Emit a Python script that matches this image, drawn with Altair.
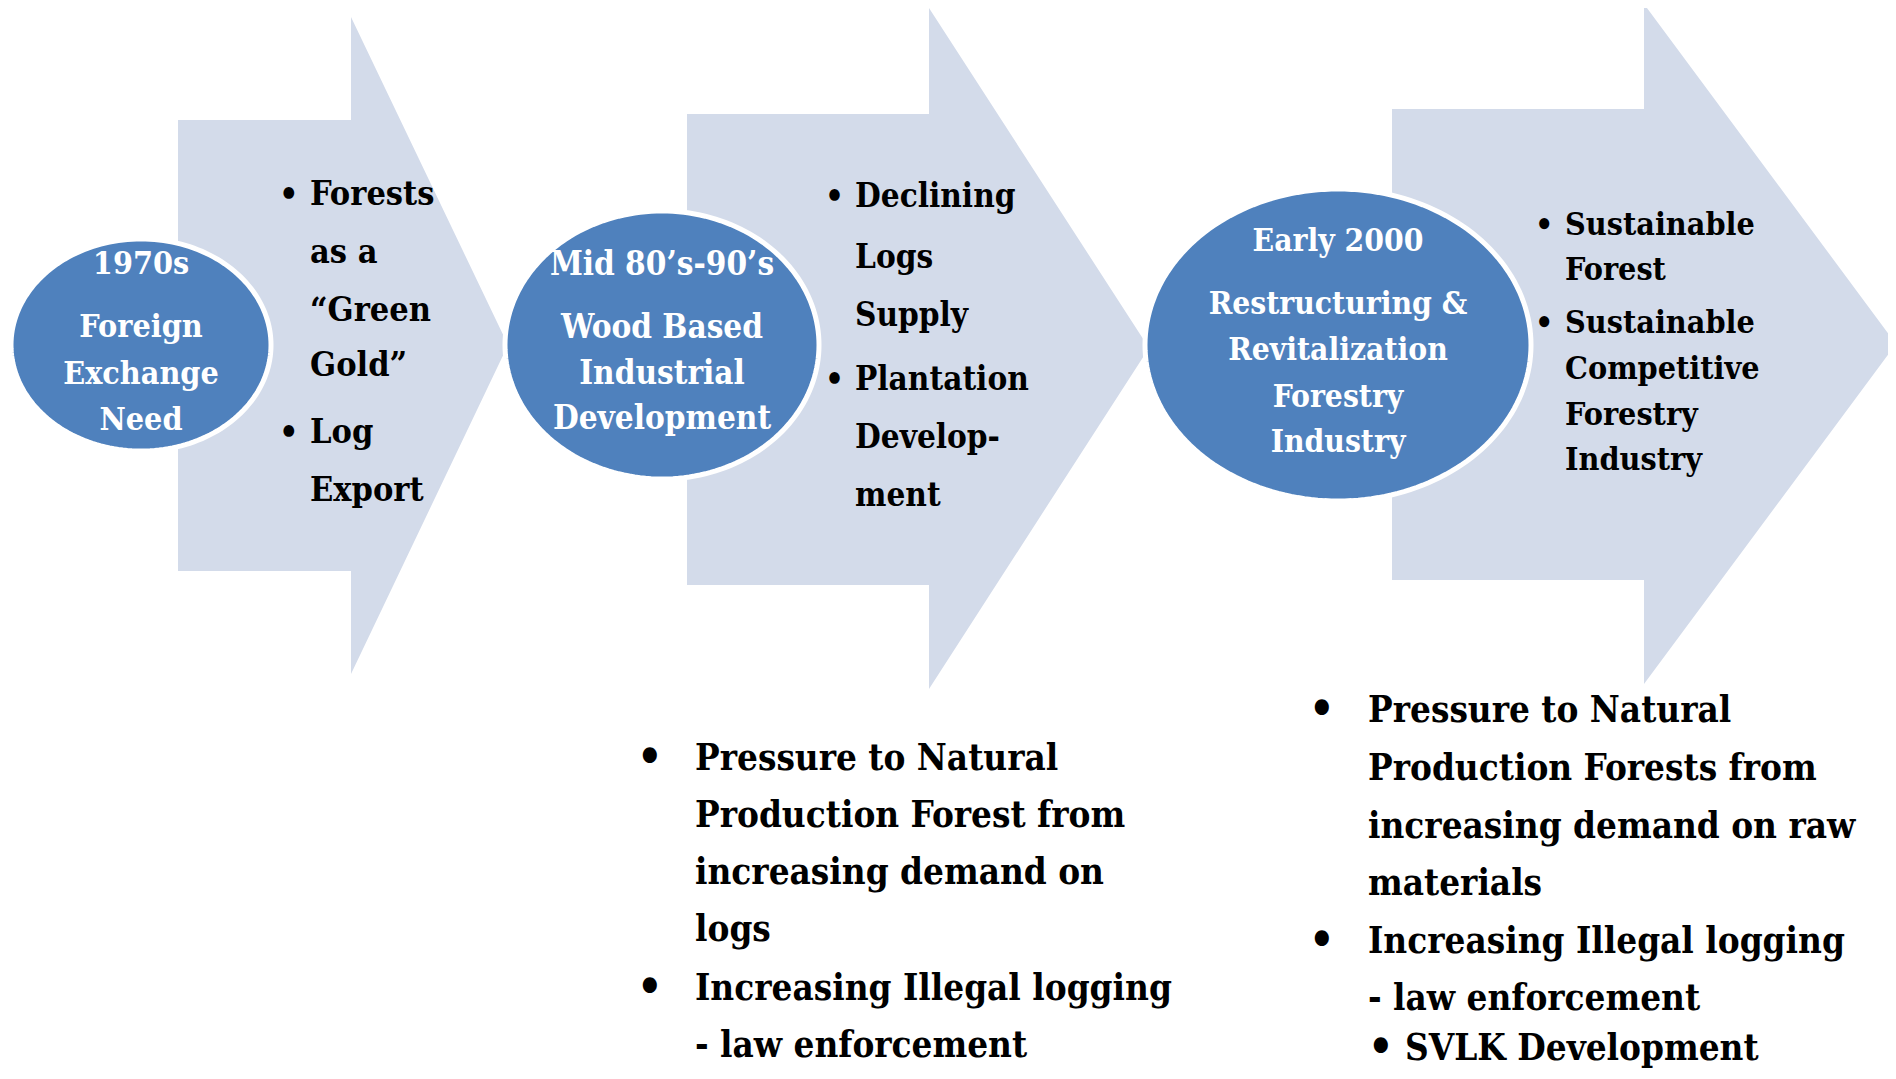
import numpy as np
import pandas as pd
import altair as alt

# ---------------- shapes (pixel coordinates of the 1896x1079 picture) ----------------
arrow_body_left = [178, 687, 1392]
arrow_body_top = [120, 114, 109]
arrow_body_bottom = [571, 585, 580]
arrow_neck_x = [351, 929, 1644]
arrow_head_top = [17, 8, 4]
arrow_head_bottom = [674, 689, 684]
arrow_tip_x = [508, 1149, 1896]
arrow_tip_y = [345, 348, 344]

ellipse_cx = [141, 662, 1338]
ellipse_cy = [345, 345, 345]
ellipse_rx = [130, 157, 193]
ellipse_ry = [106, 134, 156]

# ---------------- texts ----------------
ellipse_lines = [
    ["1970s", "Foreign", "Exchange", "Need"],
    ["Mid 80’s-90’s", "Wood Based", "Industrial", "Development"],
    ["Early 2000", "Restructuring &", "Revitalization", "Forestry", "Industry"],
]
ellipse_line_y = [
    [264, 327, 374, 420],
    [265, 328, 374, 419],
    [242, 305, 351, 398, 443],
]
ellipse_font = [32, 33, 31.5]

arrow_lines = [
    ["Forests", "as a", "“Green", "Gold”", "Log", "Export"],
    ["Declining", "Logs", "Supply", "Plantation", "Develop-", "ment"],
    ["Sustainable", "Forest", "Sustainable", "Competitive", "Forestry", "Industry"],
]
arrow_line_y = [
    [195, 253, 311, 366, 433, 491],
    [197, 258, 316, 380, 438, 496],
    [225, 270, 323, 369, 415, 460],
]
arrow_text_x = [310, 855, 1565]
arrow_bullet_x = [279, 825, 1535]
arrow_bullet_y = [[195, 433], [197, 380], [225, 323]]
arrow_font = [34, 33, 32]

bottom_lines = [
    ["Pressure to Natural", "Production Forest from", "increasing demand on", "logs",
     "Increasing Illegal logging", "- law enforcement"],
    ["Pressure to Natural", "Production Forests from", "increasing demand on raw", "materials",
     "Increasing Illegal logging", "- law enforcement"],
]
bottom_line_y = [
    [759, 816, 873, 930, 989, 1046],
    [711, 769, 827, 884, 942, 999],
]
bottom_text_x = [695, 1368]
bottom_bullet_x = [645, 1317]
bottom_bullet_y = [[759, 989], [711, 942]]
bottom_font = 36.5
sub_bullet_text = "SVLK Development"
sub_bullet_x = 1376
sub_text_x = 1405
sub_y = 1049

FONT = "DejaVu Serif Condensed, DejaVu Sans Condensed, sans-serif"
ARROW_FILL = "#D3DBEA"
ELLIPSE_FILL = "#4F81BD"

# ---------------- build geometry ----------------
arrow_features = []
for i in range(3):
    l, t, b = arrow_body_left[i], arrow_body_top[i], arrow_body_bottom[i]
    n, ht, hb = arrow_neck_x[i], arrow_head_top[i], arrow_head_bottom[i]
    tx, ty = arrow_tip_x[i], arrow_tip_y[i]
    ring = [[l, t], [n, t], [n, ht], [tx, ty], [n, hb], [n, b], [l, b], [l, t]]
    arrow_features.append({"type": "Feature", "properties": {"id": i},
                           "geometry": {"type": "Polygon", "coordinates": [ring]}})

ang = np.linspace(0, 2 * np.pi, 181)
ellipse_features = []
for i in range(3):
    ring = [[float(ellipse_cx[i] + ellipse_rx[i] * np.cos(a)),
             float(ellipse_cy[i] + ellipse_ry[i] * np.sin(a))] for a in ang]
    ellipse_features.append({"type": "Feature", "properties": {"id": i},
                             "geometry": {"type": "Polygon", "coordinates": [ring]}})

proj = dict(type="identity", scale=1, translate=[-8, -8])

arrows = alt.Chart(alt.Data(values=arrow_features)).mark_geoshape(
    fill=ARROW_FILL, strokeWidth=0, strokeOpacity=0
).project(**proj)

ellipses = alt.Chart(alt.Data(values=ellipse_features)).mark_geoshape(
    fill=ELLIPSE_FILL, stroke="white", strokeWidth=5
).project(**proj)

# ellipse texts
rows = []
for i in range(3):
    for t, y in zip(ellipse_lines[i], ellipse_line_y[i]):
        rows.append({"x": ellipse_cx[i], "y": y, "t": t, "s": ellipse_font[i]})
ell_df = pd.DataFrame(rows)
ell_text = alt.Chart(ell_df).mark_text(
    font=FONT, fontWeight="bold", color="white",
    align="center", baseline="middle"
).encode(longitude="x:Q", latitude="y:Q", text="t:N",
         size=alt.Size("s:Q", scale=None)).project(**proj)

# arrow bullet texts
rows = []
for i in range(3):
    for t, y in zip(arrow_lines[i], arrow_line_y[i]):
        rows.append({"x": arrow_text_x[i], "y": y, "t": t, "s": arrow_font[i]})
    for y in arrow_bullet_y[i]:
        rows.append({"x": arrow_bullet_x[i], "y": y, "t": "•", "s": arrow_font[i]})
arr_df = pd.DataFrame(rows)
arr_text = alt.Chart(arr_df).mark_text(
    font=FONT, fontWeight="bold", color="black", align="left", baseline="middle"
).encode(longitude="x:Q", latitude="y:Q", text="t:N",
         size=alt.Size("s:Q", scale=None)).project(**proj)

# bottom texts
rows = []
for i in range(2):
    for t, y in zip(bottom_lines[i], bottom_line_y[i]):
        rows.append({"x": bottom_text_x[i], "y": y, "t": t, "s": bottom_font})
    for y in bottom_bullet_y[i]:
        rows.append({"x": bottom_bullet_x[i] - 8, "y": y, "t": "•", "s": bottom_font + 8})
rows.append({"x": sub_text_x, "y": sub_y, "t": sub_bullet_text, "s": bottom_font})
rows.append({"x": sub_bullet_x - 8, "y": sub_y, "t": "•", "s": bottom_font + 8})
bot_df = pd.DataFrame(rows)
bot_text = alt.Chart(bot_df).mark_text(
    font=FONT, fontWeight="bold", color="black",
    align="left", baseline="middle"
).encode(longitude="x:Q", latitude="y:Q", text="t:N",
         size=alt.Size("s:Q", scale=None)).project(**proj)

chart = alt.layer(arrows, ellipses, ell_text, arr_text, bot_text).properties(
    width=1880, height=1063, padding=0, autosize="none", background="white"
).configure_view(stroke=None)

chart.save("out.html", embed_options={"renderer": "svg", "actions": False})
